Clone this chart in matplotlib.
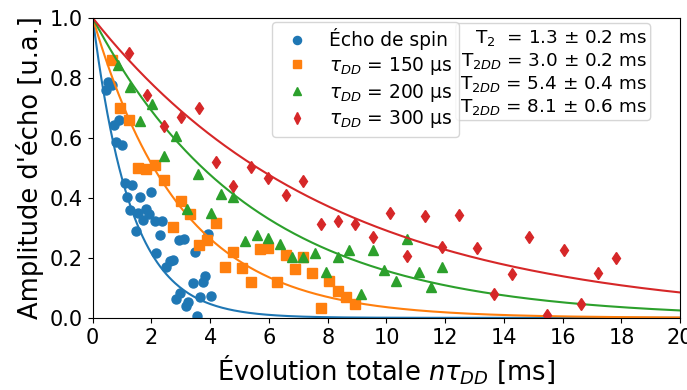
import numpy as np
import matplotlib.pyplot as plt

# constantes de decroissance (ms)
T2 = [1.3, 3.0, 5.4, 8.1]
T2_err = [0.2, 0.2, 0.4, 0.6]

# echo de spin
t_spin = [0.44, 0.52, 0.64, 0.72, 0.78, 0.90, 1.01, 1.09, 1.17, 1.26, 1.35, 1.47, 1.54, 1.62,
          1.71, 1.83, 1.92, 2.00, 2.11, 2.17, 2.28, 2.37, 2.49, 2.62, 2.74, 2.83, 2.94, 2.96,
          3.10, 3.19, 3.25, 3.40, 3.48, 3.55, 3.65, 3.76, 3.82, 3.93, 4.01]
a_spin = [0.76, 0.788, 0.777, 0.643, 0.588, 0.66, 0.577, 0.451, 0.402, 0.36, 0.443, 0.288, 0.349, 0.402,
          0.327, 0.362, 0.347, 0.419, 0.324, 0.216, 0.277, 0.324, 0.171, 0.188, 0.193, 0.062, 0.258, 0.084,
          0.262, 0.04, 0.054, 0.116, 0.218, 0.007, 0.071, 0.121, 0.138, 0.28, 0.073]

# tau_DD = 150 us
t_150 = [0.64, 0.94, 1.24, 1.54, 1.83, 2.11, 2.42, 2.72, 3.02, 3.30, 3.62, 3.90, 4.19, 4.50,
         4.78, 5.09, 5.38, 5.69, 5.97, 6.28, 6.58, 6.88, 7.17, 7.47, 7.76, 8.05, 8.34, 8.64, 8.93]
a_150 = [0.86, 0.699, 0.66, 0.499, 0.496, 0.51, 0.46, 0.302, 0.391, 0.347, 0.243, 0.26, 0.317, 0.171,
         0.218, 0.166, 0.118, 0.231, 0.233, 0.118, 0.21, 0.163, 0.204, 0.151, 0.034, 0.124, 0.09, 0.069, 0.047]

# tau_DD = 200 us
t_200 = [0.86, 1.26, 1.62, 2.03, 2.42, 2.83, 3.21, 3.59, 4.01, 4.38, 4.78, 5.18, 5.58, 5.97,
         6.37, 6.77, 7.17, 7.56, 7.94, 8.34, 8.72, 9.12, 9.53, 9.91, 10.32, 10.71, 11.11, 11.51, 11.90]
a_200 = [0.843, 0.769, 0.658, 0.713, 0.538, 0.608, 0.363, 0.48, 0.35, 0.413, 0.402, 0.257, 0.276, 0.266,
         0.247, 0.204, 0.202, 0.216, 0.154, 0.202, 0.226, 0.08, 0.227, 0.158, 0.124, 0.262, 0.154, 0.102, 0.169]

# tau_DD = 300 us
t_300 = [1.24, 1.85, 2.42, 3.02, 3.62, 4.19, 4.78, 5.38, 5.97, 6.58, 7.17, 7.76, 8.34, 8.93,
         9.53, 10.12, 10.71, 11.31, 11.90, 12.48, 13.07, 13.66, 14.26, 14.87, 15.46, 16.05,
         16.63, 17.22, 17.82]
a_300 = [0.884, 0.743, 0.64, 0.669, 0.701, 0.521, 0.44, 0.504, 0.466, 0.41, 0.457, 0.312, 0.323, 0.312,
         0.271, 0.351, 0.207, 0.338, 0.236, 0.343, 0.232, 0.079, 0.146, 0.268, 0.01, 0.227,
         0.046, 0.151, 0.199]

labels = ['Écho de spin', r'$\tau_{DD}$ = 150 µs', r'$\tau_{DD}$ = 200 µs', r'$\tau_{DD}$ = 300 µs']
colors = ['tab:blue', 'tab:orange', 'tab:green', 'tab:red']
markers = ['o', 's', '^', 'd']
data = [(t_spin, a_spin), (t_150, a_150), (t_200, a_200), (t_300, a_300)]

fig = plt.figure(figsize=(6.87, 3.9), dpi=100)
ax = fig.add_axes([0.135, 0.185, 0.855, 0.769])

t = np.linspace(0, 20, 400)
for (x, y), T, c, m, lab in zip(data, T2, colors, markers, labels):
    ax.plot(x, y, m, color=c, ls='none', ms=6.5, label=lab)
    ax.plot(t, np.exp(-t / T), color=c, lw=1.5)

ax.set_xlim(0, 20)
ax.set_ylim(0, 1)
ax.set_xticks(np.arange(0, 21, 2))
ax.set_yticks(np.arange(0, 1.01, 0.2))
ax.tick_params(labelsize=15)
ax.set_xlabel(r'Évolution totale $n\tau_{DD}$ [ms]', fontsize=18.5)
ax.set_ylabel("Amplitude d'écho [u.a.]", fontsize=18.5)

ax.legend(loc='upper right', bbox_to_anchor=(0.623, 0.987), borderaxespad=0,
          fontsize=13.4, handletextpad=0.7, borderpad=0.35, labelspacing=0.25,
          markerscale=0.9)

txt = '\n'.join([r'T$_2$  = %.1f ± %.1f ms' % (T2[0], T2_err[0])] +
                [r'T$_{2DD}$ = %.1f ± %.1f ms' % (a, b) for a, b in zip(T2[1:], T2_err[1:])])
ax.text(0.943, 0.968, txt, transform=ax.transAxes, ha='right', va='top',
        multialignment='right', fontsize=13.2, linespacing=1.2,
        bbox=dict(boxstyle='round,pad=0.22', fc='white', ec='0.8', alpha=0.8))

fig.savefig('out.png', dpi=100)
